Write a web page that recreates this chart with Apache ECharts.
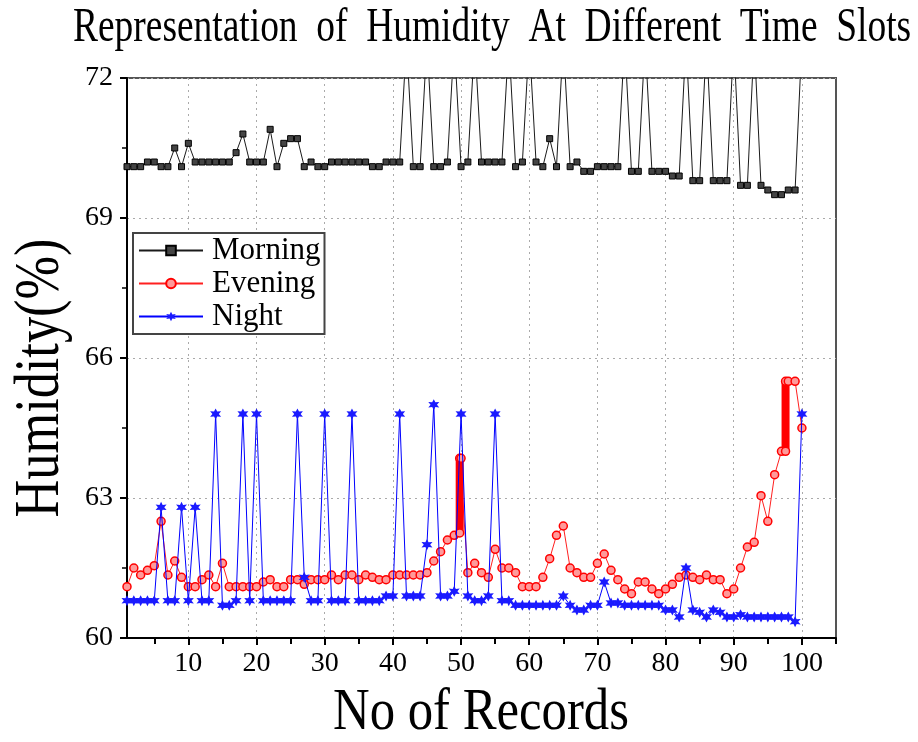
<!DOCTYPE html>
<html>
<head>
<meta charset="utf-8">
<script src="https://cdn.jsdelivr.net/npm/echarts@6/dist/echarts.min.js"></script>
<style>html,body{margin:0;padding:0;background:#fff}#c{width:918px;height:742px}</style>
</head>
<body>
<div id="c"></div>
<script>
// ---- data ----
const records = Array.from({length: 100}, (_, i) => i + 1);

const morning = [
  70.1,70.1,70.1,70.2,70.2,70.1,70.1,70.5,70.1,70.6,
  70.2,70.2,70.2,70.2,70.2,70.2,70.4,70.8,70.2,70.2,
  70.2,70.9,70.1,70.6,70.7,70.7,70.1,70.2,70.1,70.1,
  70.2,70.2,70.2,70.2,70.2,70.2,70.1,70.1,70.2,70.2,
  70.2,72.8,70.1,70.1,72.8,70.1,70.1,70.2,72.8,70.1,
  70.2,72.8,70.2,70.2,70.2,70.2,72.8,70.1,70.2,72.8,
  70.2,70.1,70.7,70.1,72.8,70.1,70.2,70.0,70.0,70.1,
  70.1,70.1,70.1,72.8,70.0,70.0,72.8,70.0,70.0,70.0,
  69.9,69.9,72.8,69.8,69.8,72.8,69.8,69.8,69.8,72.8,
  69.7,69.7,72.8,69.7,69.6,69.5,69.5,69.6,69.6,72.8
];

const evening = [
  61.1,61.5,61.35,61.45,61.55,62.5,61.35,61.65,61.3,61.1,
  61.1,61.25,61.35,61.1,61.6,61.1,61.1,61.1,61.1,61.1,
  61.2,61.25,61.1,61.1,61.25,61.25,61.15,61.25,61.25,61.25,
  61.35,61.25,61.35,61.35,61.25,61.35,61.3,61.25,61.25,61.35,
  61.35,61.35,61.35,61.35,61.4,61.65,61.85,62.1,62.2,63.85,
  61.4,61.6,61.4,61.3,61.9,61.5,61.5,61.4,61.1,61.1,
  61.1,61.3,61.7,62.2,62.4,61.5,61.4,61.3,61.3,61.6,
  61.8,61.45,61.25,61.05,60.95,61.2,61.2,61.05,60.95,61.05,
  61.15,61.3,61.35,61.3,61.25,61.35,61.25,61.25,60.95,61.05,
  61.5,61.95,62.05,63.05,62.5,63.5,64.0,65.5,65.5,64.5
];
// overlapping evening readings stacked at one record position
const eveningStackAfter = [49, 97];
const eveningStackX = [49.8, 97.6];
const eveningStackLow = [62.25, 64.0];
const eveningStackHigh = [63.85, 65.5];

const night = [
  60.8,60.8,60.8,60.8,60.8,62.8,60.8,60.8,62.8,60.8,
  62.8,60.8,60.8,64.8,60.7,60.7,60.8,64.8,60.8,64.8,
  60.8,60.8,60.8,60.8,60.8,64.8,61.3,60.8,60.8,64.8,
  60.8,60.8,60.8,64.8,60.8,60.8,60.8,60.8,60.9,60.9,
  64.8,60.9,60.9,60.9,62.0,65.0,60.9,60.9,61.0,64.8,
  60.9,60.8,60.8,60.9,64.8,60.8,60.8,60.7,60.7,60.7,
  60.7,60.7,60.7,60.7,60.9,60.7,60.6,60.6,60.7,60.7,
  61.2,60.75,60.75,60.7,60.7,60.7,60.7,60.7,60.7,60.6,
  60.6,60.45,61.5,60.6,60.55,60.45,60.6,60.55,60.45,60.45,
  60.5,60.45,60.45,60.45,60.45,60.45,60.45,60.45,60.35,64.8
];

const xMajorTicks = [10,20,30,40,50,60,70,80,90,100];
const xMinorTicks = [5,15,25,35,45,55,65,75,85,95,105];
const seriesNames = ['Morning','Evening','Night'];

// ---- build ----
const SERIF = '"Liberation Serif", "Times New Roman", serif';
const starPath = 'path://M10 0 L12.5 5.67 L18.66 5 L15 10 L18.66 15 L12.5 14.33 L10 20 L7.5 14.33 L1.34 15 L5 10 L1.34 5 L7.5 5.67 Z';

const morningData = records.map((r, i) => [r, morning[i]]);
const nightData = records.map((r, i) => [r, night[i]]);
const eveningData = [];
records.forEach((r, i) => {
  eveningData.push([r, evening[i]]);
  const k = eveningStackAfter.indexOf(r);
  if (k >= 0) {
    eveningData.push([eveningStackX[k], eveningStackLow[k]]);
    eveningData.push([eveningStackX[k], eveningStackHigh[k]]);
  }
});
const stackSeries = eveningStackX.map((x, k) => ({
  name: 'EveningStack' + k,
  type: 'line',
  xAxisIndex: 0,
  data: [[x, eveningStackLow[k]], [x, eveningStackHigh[k]]],
  symbol: 'none',
  lineStyle: {color: '#ff0000', width: 8},
  z: 3,
  silent: true
}));

const chart = echarts.init(document.getElementById('c'), null, {renderer: 'canvas'});
chart.setOption({
  animation: false,
  backgroundColor: '#fff',
  grid: {left: 127, right: 82, top: 78, bottom: 104, show: true, borderColor: '#555', borderWidth: 2},
  legend: {
    data: seriesNames,
    orient: 'vertical',
    left: 133, top: 233,
    itemWidth: 64, itemHeight: 12, itemGap: 2,
    padding: [2, 4, 2, 5],
    borderColor: '#444', borderWidth: 2,
    backgroundColor: '#fff',
    textStyle: {fontFamily: SERIF, fontSize: 31, color: '#000', lineHeight: 31, padding: [0, 0, 0, 4]}
  },
  xAxis: [{
    type: 'value', min: 1, max: 105, position: 'bottom',
    axisLine: {show: true, onZero: false, lineStyle: {color: '#000', width: 2}},
    axisTick: {show: true, customValues: xMajorTicks, length: 7, lineStyle: {color: '#000', width: 2}},
    axisLabel: {customValues: xMajorTicks, fontFamily: SERIF, fontSize: 28, color: '#000', margin: 12},
    splitLine: {show: true, lineStyle: {type: [2, 4], color: '#aaa', width: 1}}
  }, {
    type: 'value', min: 1, max: 105, position: 'bottom', gridIndex: 0,
    axisLine: {show: false},
    axisTick: {show: true, customValues: xMinorTicks, length: 6, lineStyle: {color: '#000', width: 2}},
    axisLabel: {show: false},
    splitLine: {show: false}
  }],
  yAxis: {
    type: 'value', min: 60, max: 72, interval: 3,
    axisLine: {show: true, lineStyle: {color: '#000', width: 2}},
    axisTick: {show: true, length: 7, lineStyle: {color: '#000', width: 2}},
    minorTick: {show: true, splitNumber: 2, length: 5, lineStyle: {color: '#000', width: 1.5}},
    axisLabel: {fontFamily: SERIF, fontSize: 28, color: '#000', margin: 14},
    splitLine: {show: true, lineStyle: {type: [2, 4], color: '#aaa', width: 1}}
  },
  series: [{
    name: 'Morning', type: 'line', xAxisIndex: 0, data: morningData,
    showSymbol: true, showAllSymbol: true, symbol: 'rect', symbolSize: 6,
    lineStyle: {color: '#1a1a1a', width: 1},
    itemStyle: {color: '#444', borderColor: '#000', borderWidth: 1},
    clip: true, z: 2
  }, {
    name: 'Evening', type: 'line', xAxisIndex: 0, data: eveningData,
    showSymbol: true, showAllSymbol: true, symbol: 'circle', symbolSize: 8,
    lineStyle: {color: '#ff2020', width: 1},
    itemStyle: {color: '#ff9a9a', borderColor: '#ff0000', borderWidth: 1.5},
    clip: true, z: 3
  }].concat(stackSeries).concat([{
    name: 'Night', type: 'line', xAxisIndex: 0, data: nightData,
    showSymbol: true, showAllSymbol: true, symbol: starPath, symbolSize: 11,
    lineStyle: {color: '#0000ff', width: 1},
    itemStyle: {color: '#1a1aff'},
    clip: true, z: 4
  }]),
  graphic: [{
    type: 'text', x: 73, y: 28, scaleX: 0.78,
    style: {text: 'Representation  of  Humidity  At  Different  Time  Slots', fontFamily: SERIF, fontSize: 48, fill: '#000', align: 'left', verticalAlign: 'middle'}
  }, {
    type: 'text', x: 481, y: 713, scaleX: 0.86,
    style: {text: 'No of Records', fontFamily: SERIF, fontSize: 59, fill: '#000', align: 'center', verticalAlign: 'middle'}
  }, {
    type: 'text', x: 41, y: 378, rotation: Math.PI / 2, scaleX: 0.83,
    style: {text: 'Humidity(%)', fontFamily: SERIF, fontSize: 63, fill: '#000', align: 'center', verticalAlign: 'middle'}
  }]
});
</script>
</body>
</html>
